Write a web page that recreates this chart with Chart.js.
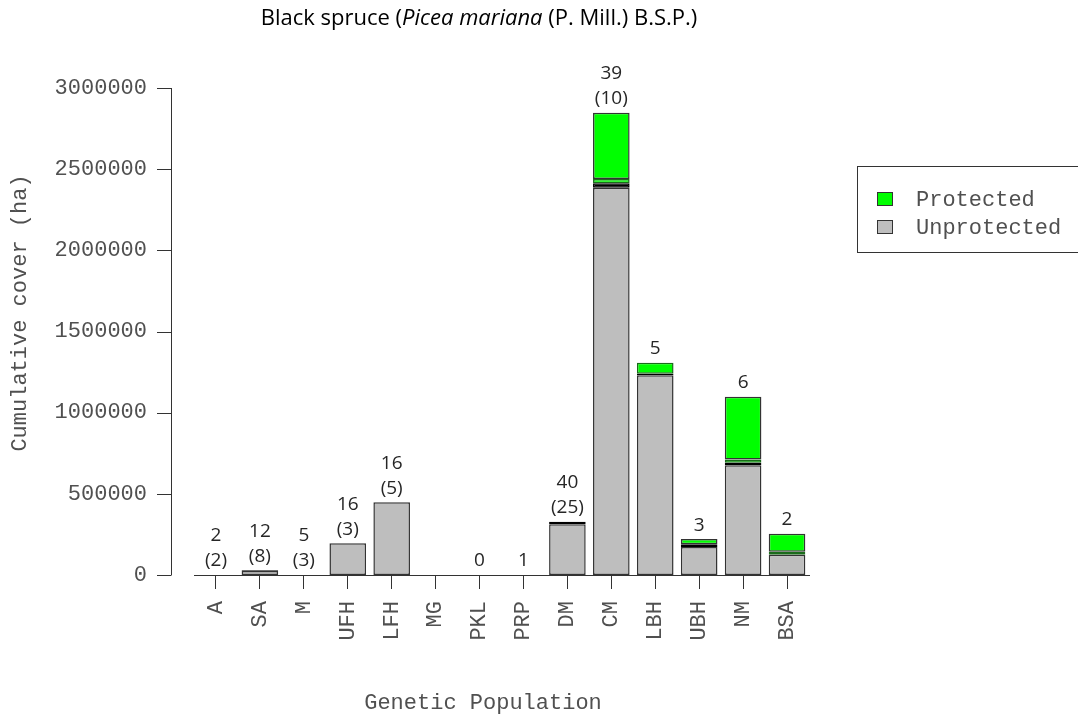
<!DOCTYPE html>
<html>
<head>
<meta charset="utf-8">
<title>Black spruce cumulative cover</title>
<script src="https://cdn.jsdelivr.net/npm/chart.js@4.4.1/dist/chart.umd.min.js"></script>
<style>
    body { margin: 0; background: #fff; }
    #wrap { width: 1078px; height: 721px; }
</style>
</head>
<body>
<div id="wrap"><canvas id="coverChart" width="1078" height="721"></canvas></div>
<script>
// Genetic populations (x axis)
const populations = ['A', 'SA', 'M', 'UFH', 'LFH', 'MG', 'PKL', 'PRP', 'DM', 'CM', 'LBH', 'UBH', 'NM', 'BSA'];

// Cumulative cover (ha), bottom to top of each stack
const unprotectedMain = [0, 25000, 0, 195000, 448000, 0, 0, 0, 312000, 2386000, 1230000, 172000, 676000, 125000];
const unprotectedSmall = [0, 5000, 0, 0, 0, 0, 0, 0, 16000, 27000, 10000, 18000, 16000, 0];
const protectedSmall = [0, 0, 0, 0, 0, 0, 0, 0, 0, 27000, 68000, 0, 20000, 18000];
const protectedMain = [0, 0, 0, 0, 0, 0, 0, 0, 0, 407000, 0, 31000, 386000, 111000];

// Labels above the bars
const countLabels = ['2', '12', '5', '16', '16', '', '0', '1', '40', '39', '5', '3', '6', '2'];
const protectedCountLabels = ['(2)', '(8)', '(3)', '(3)', '(5)', '', '', '', '(25)', '(10)', '', '', '', ''];

const yTicks = [0, 500000, 1000000, 1500000, 2000000, 2500000, 3000000];

const GRAY = '#BEBEBE';
const GREEN = '#00FF00';
const EDGE = '#333333';
const TEXT = '#505050';
const MONO = '"Liberation Mono", "DejaVu Sans Mono", monospace';
const SANS = '"Open Sans", "Noto Sans", sans-serif';

function nz(arr) {
    return arr.map(v => v || null);
}

/**
 * Title with italic species name
 */
const titlePlugin = {
    id: 'mixedTitle',
    afterDraw(chart) {
        const ctx = chart.ctx;
        const parts = [
            { text: 'Black spruce (', italic: false },
            { text: 'Picea mariana', italic: true },
            { text: ' (P. Mill.) B.S.P.)', italic: false }
        ];
        ctx.save();
        ctx.fillStyle = '#000';
        ctx.textBaseline = 'middle';
        ctx.textAlign = 'left';
        let total = 0;
        parts.forEach(p => {
            ctx.font = (p.italic ? 'italic ' : '') + '22px ' + SANS;
            p.w = ctx.measureText(p.text).width;
            total += p.w;
        });
        let x = 479 - total / 2;
        parts.forEach(p => {
            ctx.font = (p.italic ? 'italic ' : '') + '22px ' + SANS;
            ctx.fillText(p.text, x, 19);
            x += p.w;
        });
        ctx.restore();
    }
};

/**
 * R-style detached y axis, axis titles and boxed legend
 */
const axesPlugin = {
    id: 'rAxes',
    afterDraw(chart) {
        const ctx = chart.ctx;
        const ys = chart.scales.y;
        const area = chart.chartArea;
        const x0 = area.left - 23;

        ctx.save();
        ctx.strokeStyle = EDGE;
        ctx.lineWidth = 1;
        ctx.beginPath();
        ctx.moveTo(x0 + 0.5, Math.round(ys.getPixelForValue(yTicks[yTicks.length - 1])));
        ctx.lineTo(x0 + 0.5, Math.round(ys.getPixelForValue(0)));
        yTicks.forEach(t => {
            const py = Math.round(ys.getPixelForValue(t)) + 0.5;
            ctx.moveTo(x0 - 14, py);
            ctx.lineTo(x0 + 0.5, py);
        });
        ctx.stroke();

        // axis titles
        ctx.fillStyle = TEXT;
        ctx.font = '22px ' + MONO;
        ctx.textAlign = 'center';
        ctx.textBaseline = 'middle';
        ctx.fillText('Genetic Population', 483, 703);
        ctx.translate(20, 313);
        ctx.rotate(-Math.PI / 2);
        ctx.fillText('Cumulative cover (ha)', 0, 0);
        ctx.restore();

        // legend
        const lx = area.right + 48;
        ctx.save();
        ctx.strokeStyle = EDGE;
        ctx.lineWidth = 1;
        ctx.strokeRect(lx + 0.5, 166.5, 300, 86);
        const items = [
            { label: 'Protected', color: GREEN, y: 199 },
            { label: 'Unprotected', color: GRAY, y: 227 }
        ];
        ctx.font = '22px ' + MONO;
        ctx.textAlign = 'left';
        ctx.textBaseline = 'middle';
        items.forEach(it => {
            ctx.fillStyle = it.color;
            ctx.fillRect(lx + 20, it.y - 7, 16, 14);
            ctx.strokeRect(lx + 20.5, it.y - 6.5, 15, 13);
            ctx.fillStyle = TEXT;
            ctx.fillText(it.label, lx + 59, it.y + 1);
        });
        ctx.restore();
    }
};

/**
 * Count labels above each stack
 */
const barLabelPlugin = {
    id: 'barLabels',
    afterDatasetsDraw(chart) {
        const ctx = chart.ctx;
        const xs = chart.scales.x;
        const ys = chart.scales.y;
        ctx.save();
        ctx.font = '19px ' + SANS;
        ctx.fillStyle = '#262626';
        ctx.textAlign = 'center';
        ctx.textBaseline = 'middle';
        populations.forEach((p, i) => {
            const total = unprotectedMain[i] + unprotectedSmall[i] + protectedSmall[i] + protectedMain[i];
            const top = ys.getPixelForValue(total);
            const cx = xs.getPixelForValue(i);
            const lines = [countLabels[i], protectedCountLabels[i]].filter(s => s);
            lines.reverse().forEach((s, k) => {
                ctx.fillText(s, cx, top - 14 - k * 25);
            });
        });
        ctx.restore();
    }
};

function makeDataset(label, values, color, border) {
    return {
        label: label,
        data: nz(values),
        backgroundColor: color,
        borderColor: border,
        borderWidth: 1.5,
        borderSkipped: false,
        categoryPercentage: 1.0,
        barPercentage: 0.833
    };
}

function init() {
    const canvas = document.getElementById('coverChart');

    new Chart(canvas, {
        type: 'bar',
        data: {
            labels: populations,
            datasets: [
                makeDataset('Unprotected', unprotectedMain, GRAY, EDGE),
                makeDataset('Unprotected (small)', unprotectedSmall, '#000000', '#000000'),
                makeDataset('Protected (small)', protectedSmall, GREEN, '#1a6b1a'),
                makeDataset('Protected', protectedMain, GREEN, EDGE)
            ]
        },
        options: {
            responsive: false,
            animation: false,
            layout: {
                padding: { top: 88, right: 269, bottom: 0, left: 0 }
            },
            plugins: {
                legend: { display: false },
                title: { display: false },
                tooltip: { enabled: false }
            },
            scales: {
                x: {
                    stacked: true,
                    offset: true,
                    afterFit: (scale) => { scale.height = 146; },
                    grid: {
                        display: true,
                        drawOnChartArea: false,
                        offset: false,
                        tickLength: 14,
                        color: EDGE
                    },
                    border: { display: true, color: EDGE, width: 1 },
                    ticks: {
                        autoSkip: false,
                        minRotation: 90,
                        maxRotation: 90,
                        padding: 12,
                        color: TEXT,
                        font: { family: MONO, size: 22 }
                    }
                },
                y: {
                    stacked: true,
                    min: 0,
                    max: 3000000,
                    afterFit: (scale) => { scale.width = 194; },
                    afterBuildTicks: (scale) => {
                        scale.ticks = yTicks.map(v => ({ value: v }));
                    },
                    grid: { display: false, drawTicks: false },
                    border: { display: false },
                    ticks: {
                        padding: 47,
                        color: TEXT,
                        font: { family: MONO, size: 22 },
                        callback: (v) => String(v)
                    }
                }
            }
        },
        plugins: [titlePlugin, axesPlugin, barLabelPlugin]
    });
}

document.addEventListener('DOMContentLoaded', init);
</script>
</body>
</html>
